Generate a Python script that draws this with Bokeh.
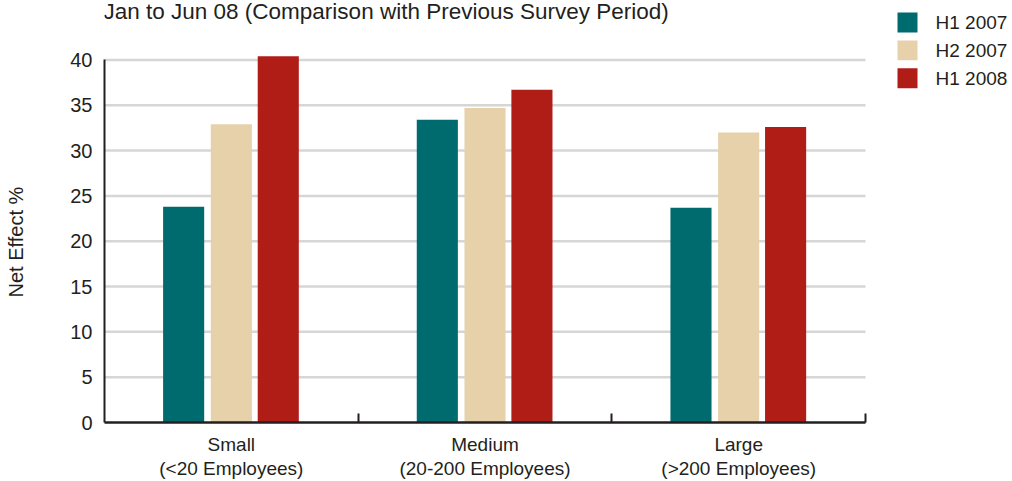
from bokeh.plotting import figure
from bokeh.models import Range1d, FixedTicker
from bokeh.core.properties import value
from bokeh.embed import file_html
from bokeh.resources import INLINE

# ---- data -------------------------------------------------------------
title_text = "Jan to Jun 08 (Comparison with Previous Survey Period)"
categories = ["Small\n(<20 Employees)", "Medium\n(20-200 Employees)", "Large\n(>200 Employees)"]
series_names = ["H1 2007", "H2 2007", "H1 2008"]
h1_2007 = [23.8, 33.4, 23.7]
h2_2007 = [32.9, 34.7, 32.0]
h1_2008 = [40.4, 36.7, 32.6]
y_ticks = [0, 5, 10, 15, 20, 25, 30, 35, 40]
y_axis_title = "Net Effect %"

# ---- style ------------------------------------------------------------
FONT = "Liberation Sans"
TEXT = "#231f20"
GRID = "#d6d6d6"
colors = ["#006b6e", "#e6d1ab", "#b01c16"]

W, H = 1012, 481
LEFT, BOTTOM = 104, 58
X_PX = 253.67          # pixels per category
Y_PX = 9.085           # pixels per percentage point
frame_w = W - LEFT
frame_h = H - BOTTOM

def px_x(px):
    return (px - LEFT) / X_PX

def px_y(px):
    return (frame_h - px) / Y_PX

p = figure(
    width=W, height=H,
    x_range=Range1d(0, frame_w / X_PX),
    y_range=Range1d(0, frame_h / Y_PX),
    min_border_left=LEFT, min_border_bottom=BOTTOM,
    min_border_top=0, min_border_right=0,
    output_backend="svg", toolbar_location=None,
    outline_line_color=None, background_fill_color="white",
    border_fill_color="white",
)
p.xgrid.visible = False
p.ygrid.visible = False

# horizontal guide lines across the category span
grid_vals = [t for t in y_ticks if t > 0]
p.segment(x0=[0] * len(grid_vals), x1=[len(categories)] * len(grid_vals),
          y0=grid_vals, y1=grid_vals, line_color=GRID, line_width=2.5)

# grouped bars
offsets = [-0.188, 0.0, 0.185]
bar_w = 0.162
for vals, off, col in zip([h1_2007, h2_2007, h1_2008], offsets, colors):
    xs = [i + 0.5 + off for i in range(len(categories))]
    p.vbar(x=xs, top=vals, bottom=0, width=bar_w, fill_color=col, line_color=None)

# y axis
p.yaxis.ticker = FixedTicker(ticks=y_ticks)
p.yaxis.bounds = (0, 40)
p.yaxis.major_tick_in = 0
p.yaxis.major_tick_out = 0
p.yaxis.minor_tick_in = 0
p.yaxis.minor_tick_out = 0
p.yaxis.axis_line_color = TEXT
p.yaxis.axis_line_width = 2
p.yaxis.major_label_text_font = FONT
p.yaxis.major_label_text_font_size = "20px"
p.yaxis.major_label_text_color = TEXT
p.yaxis.major_label_standoff = 12
# the label is centred on the whole panel height; trailing no-break spaces
# pull the visible words down to the middle of the 0-40 span
p.yaxis.axis_label = y_axis_title + "\u00a0" * 11
p.yaxis.axis_label_text_font = FONT
p.yaxis.axis_label_text_font_size = "20px"
p.yaxis.axis_label_text_font_style = "normal"
p.yaxis.axis_label_text_color = TEXT
p.yaxis.axis_label_standoff = 40

# x axis: labels at group centres, ticks at group boundaries
centers = [i + 0.5 for i in range(len(categories))]
bounds_ticks = [i + 1 for i in range(len(categories))]
p.xaxis.ticker = FixedTicker(ticks=centers, minor_ticks=bounds_ticks)
p.xaxis.major_label_overrides = {c: lab for c, lab in zip(centers, categories)}
p.xaxis.bounds = (0, len(categories))
p.xaxis.major_tick_in = 0
p.xaxis.major_tick_out = 0
p.xaxis.minor_tick_in = 9
p.xaxis.minor_tick_out = 0
p.xaxis.minor_tick_line_color = TEXT
p.xaxis.minor_tick_line_width = 2
p.xaxis.axis_line_color = TEXT
p.xaxis.axis_line_width = 2.5
p.xaxis.major_label_text_font = FONT
p.xaxis.major_label_text_font_size = "19px"
p.xaxis.major_label_text_color = TEXT
p.xaxis.major_label_text_line_height = 1.15
p.xaxis.major_label_standoff = 11

# chart heading
p.text(x=[px_x(103)], y=[px_y(11)], text=[title_text],
       text_font=value(FONT), text_font_size="22.5px", text_color=TEXT,
       text_align="left", text_baseline="alphabetic")

# legend
sq_left, sq_size, sq_top, sq_step, label_left = 897, 20, 12, 28, 935
for k, (name, col) in enumerate(zip(series_names, colors)):
    top_px = sq_top + k * sq_step
    p.quad(left=[px_x(sq_left)], right=[px_x(sq_left + sq_size)],
           top=[px_y(top_px)], bottom=[px_y(top_px + sq_size)],
           fill_color=col, line_color=None)
    p.text(x=[px_x(label_left)], y=[px_y(top_px + sq_size / 2)], text=[name],
           text_font=value(FONT), text_font_size="19px", text_color=TEXT,
           text_align="left", text_baseline="middle")

open("out.html", "w").write(file_html(p, INLINE))
